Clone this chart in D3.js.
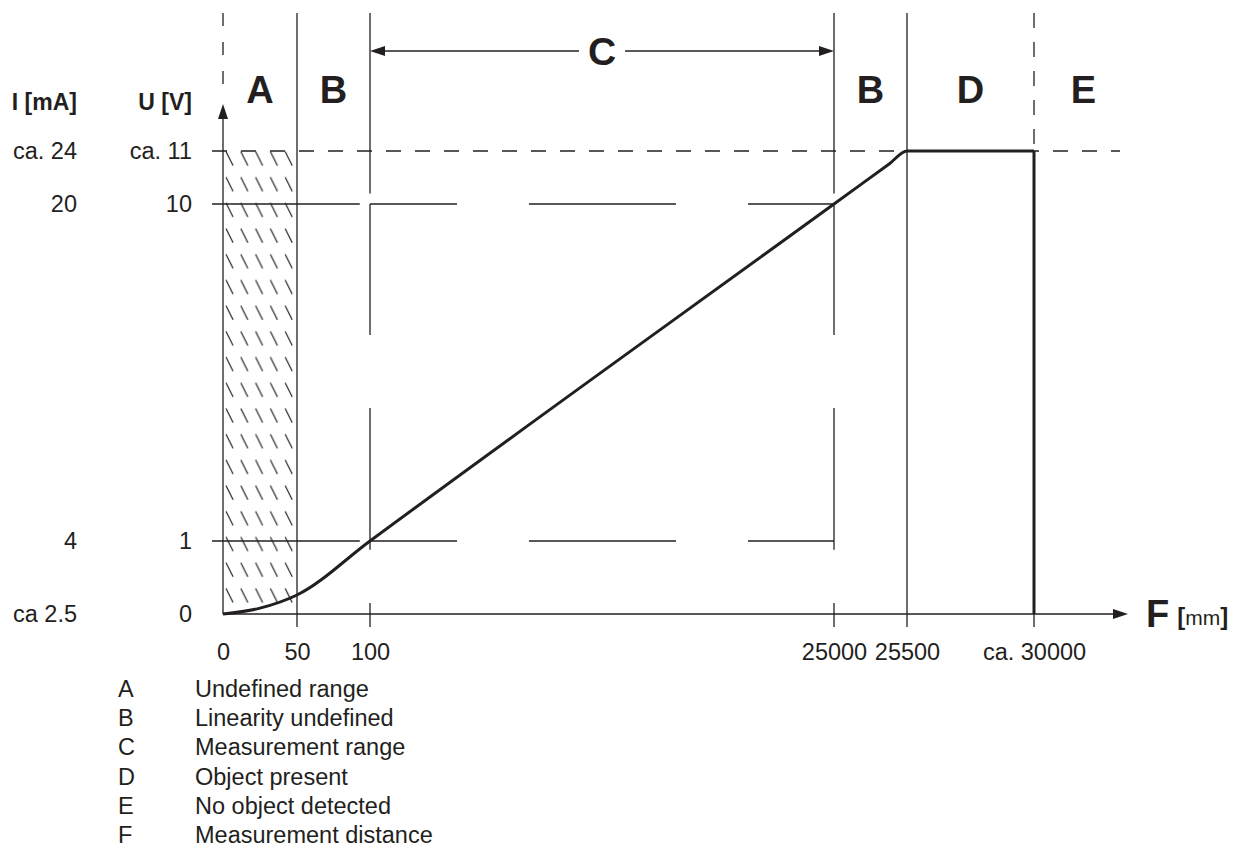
<!DOCTYPE html>
<html>
<head>
<meta charset="utf-8">
<script src="https://cdn.jsdelivr.net/npm/d3@7"></script>
<style>
	body { margin: 0; background: #fff; }
	svg { display: block; font-family: 'Liberation Sans', Arial, sans-serif; }
</style>
</head>
<body>
<div id="draw"></div>
<script>
// distance axis (mm) - schematic, not to scale
const distTicks = [0, 50, 100, 25000, 25500, 30000];
const distLabels = ['0', '50', '100', '25000', '25500', 'ca. 30000'];

// output axes
const voltTicks = [0, 1, 10, 11];
const voltLabels = ['0', '1', '10', 'ca. 11'];
const currLabels = ['ca 2.5', '4', '20', 'ca. 24'];

// characteristic curve
const curveDist = [0, 25, 50, 100, 25000, 25380, 25500, 30000];
const curveVolt = [0, 0.08, 0.26, 1, 10, 10.76, 11, 11];
const dropDist = [30000, 30000];
const dropVolt = [11, 0];

// zones above the chart
const zoneNames = ['A', 'B', 'B', 'D', 'E'];
const zoneFrom = [0, 50, 25000, 25500, 30000];
const zoneTo = [50, 100, 25500, 30000, 33500];
const rangeName = 'C';
const rangeFrom = 100;
const rangeTo = 25000;

// broken grid lines at 1 V and 10 V (mm)
const hGridFrom = [0, 100, 8630, 20385];
const hGridTo = [93, 4770, 16520, 25000];
// broken grid lines at 100 mm and 25000 mm (V), null = frame edge
const vGridFrom = [null, 10, 4.55, 0.15];
const vGridTo = [10.2, 6.5, 0.88, null];

// legend
const legendKeys = ['A', 'B', 'C', 'D', 'E', 'F'];
const legendText = [
	'Undefined range',
	'Linearity undefined',
	'Measurement range',
	'Object present',
	'No object detected',
	'Measurement distance',
];

var width = 1242,
	height = 849,
	ink = '#231f20',
	fontSize = '23.5px',
	frameTop = 13,
	tickLen = 13,
	overhang = 11,
	axisEnd = 1128;

var svg = d3
	.select('#draw')
	.append('svg')
	.attr('width', width)
	.attr('height', height);

// piecewise scales, the drawing is not to scale
var x = d3.scaleLinear().domain(distTicks).range([223, 297, 370, 834, 907, 1034]);
var y = d3.scaleLinear().domain(voltTicks).range([614, 541, 204, 151]);

var bottom = y(0) + tickLen;

// hatch pattern for the undefined range
var hatchW = (x(50) - x(0)) / 5;
var pattern = svg
	.append('defs')
	.append('pattern')
	.attr('id', 'hatch')
	.attr('patternUnits', 'userSpaceOnUse')
	.attr('x', x(0))
	.attr('y', y(11))
	.attr('width', hatchW)
	.attr('height', 25.7);
pattern
	.append('path')
	.attr('d', 'M3,0.5 L10,14.5')
	.attr('stroke', ink)
	.attr('stroke-width', 1.2);

svg
	.append('rect')
	.attr('x', x(0))
	.attr('y', y(11))
	.attr('width', x(50) - x(0))
	.attr('height', y(0) - y(11))
	.attr('fill', 'url(#hatch)');

var thin = function (sel) {
	return sel.attr('stroke', ink).attr('stroke-width', 1.3).attr('fill', 'none');
};

// full height zone borders
[50, 25500].forEach(function (d) {
	svg
		.append('line')
		.attr('x1', x(d))
		.attr('x2', x(d))
		.attr('y1', frameTop)
		.attr('y2', bottom)
		.call(thin);
});

// dashed borders above the y axis and at ca. 30000
svg
	.append('line')
	.attr('x1', x(0))
	.attr('x2', x(0))
	.attr('y1', frameTop)
	.attr('y2', 100)
	.attr('stroke-dasharray', '13,16')
	.call(thin);
svg
	.append('line')
	.attr('x1', x(30000))
	.attr('x2', x(30000))
	.attr('y1', frameTop)
	.attr('y2', y(11))
	.attr('stroke-dasharray', '15,14')
	.call(thin);
svg
	.append('line')
	.attr('x1', x(30000))
	.attr('x2', x(30000))
	.attr('y1', y(0))
	.attr('y2', bottom)
	.call(thin);

// broken verticals at 100 and 25000
[rangeFrom, rangeTo].forEach(function (d) {
	vGridFrom.forEach(function (v, i) {
		svg
			.append('line')
			.attr('x1', x(d))
			.attr('x2', x(d))
			.attr('y1', v === null ? frameTop : y(v))
			.attr('y2', vGridTo[i] === null ? bottom : y(vGridTo[i]))
			.call(thin);
	});
});

// broken horizontals at 1 V and 10 V
[1, 10].forEach(function (v) {
	hGridFrom.forEach(function (d, i) {
		svg
			.append('line')
			.attr('x1', i === 0 ? x(d) - overhang : x(d))
			.attr('x2', x(hGridTo[i]))
			.attr('y1', y(v))
			.attr('y2', y(v))
			.call(thin);
	});
});

// dashed limit line at ca. 11 V
svg
	.append('line')
	.attr('x1', x(0) - overhang)
	.attr('x2', 1120)
	.attr('y1', y(11))
	.attr('y2', y(11))
	.attr('stroke-dasharray', '15,14')
	.call(thin);

// x axis with arrow
svg
	.append('line')
	.attr('x1', x(0))
	.attr('x2', axisEnd - 12)
	.attr('y1', y(0))
	.attr('y2', y(0))
	.call(thin);
svg
	.append('path')
	.attr('d', d3.line()([[axisEnd, y(0)], [axisEnd - 15, y(0) - 5], [axisEnd - 15, y(0) + 5]]) + 'Z')
	.attr('fill', ink);

// y axis with arrow
var arrowTip = 104;
svg
	.append('line')
	.attr('x1', x(0))
	.attr('x2', x(0))
	.attr('y1', y(0))
	.attr('y2', arrowTip + 12)
	.call(thin);
svg
	.append('path')
	.attr('d', d3.line()([[x(0), arrowTip], [x(0) - 5, arrowTip + 15], [x(0) + 5, arrowTip + 15]]) + 'Z')
	.attr('fill', ink);

// x tick labels through d3 axis
var xAxis = svg
	.append('g')
	.attr('transform', 'translate(0,' + y(0) + ')')
	.call(
		d3
			.axisBottom(x)
			.tickValues(distTicks)
			.tickSize(tickLen)
			.tickPadding(16)
			.tickFormat(function (d, i) {
				return distLabels[i];
			})
	);
xAxis.select('.domain').remove();
xAxis.selectAll('.tick line').remove();
xAxis.attr('font-family', null);
xAxis.selectAll('text').style('font-size', fontSize).attr('fill', ink);

// y tick labels, voltage and current
var voltAxis = svg
	.append('g')
	.attr('transform', 'translate(' + x(0) + ',0)')
	.call(
		d3
			.axisLeft(y)
			.tickValues(voltTicks)
			.tickSize(0)
			.tickPadding(x(0) - 192)
			.tickFormat(function (d, i) {
				return voltLabels[i];
			})
	);
var currAxis = svg
	.append('g')
	.attr('transform', 'translate(' + x(0) + ',0)')
	.call(
		d3
			.axisLeft(y)
			.tickValues(voltTicks)
			.tickSize(0)
			.tickPadding(x(0) - 77)
			.tickFormat(function (d, i) {
				return currLabels[i];
			})
	);
[voltAxis, currAxis].forEach(function (g) {
	g.select('.domain').remove();
	g.selectAll('.tick line').remove();
	g.attr('font-family', null);
	g.selectAll('text').style('font-size', fontSize).attr('fill', ink);
});

// axis titles
svg
	.append('text')
	.attr('x', 192)
	.attr('y', 110)
	.attr('text-anchor', 'end')
	.style('font-size', '23px')
	.style('font-weight', 'bold')
	.attr('fill', ink)
	.text('U [V]');
svg
	.append('text')
	.attr('x', 77)
	.attr('y', 110)
	.attr('text-anchor', 'end')
	.style('font-size', '23px')
	.style('font-weight', 'bold')
	.attr('fill', ink)
	.text('I [mA]');

var fLabel = svg
	.append('text')
	.attr('x', 1146)
	.attr('y', y(0) + 13)
	.attr('fill', ink);
fLabel.append('tspan').style('font-size', '38px').style('font-weight', 'bold').text('F');
fLabel.append('tspan').attr('dx', 8).style('font-size', '24px').style('font-weight', 'bold').attr('dy', -2).text('[');
fLabel.append('tspan').style('font-size', '21px').text('mm');
fLabel.append('tspan').style('font-size', '24px').style('font-weight', 'bold').text(']');

// zone letters
svg
	.selectAll('.zone')
	.data(zoneNames)
	.enter()
	.append('text')
	.attr('class', 'zone')
	.attr('x', function (d, i) {
		return (x(zoneFrom[i]) + x(zoneTo[i])) / 2;
	})
	.attr('y', 103)
	.attr('text-anchor', 'middle')
	.style('font-size', '38px')
	.style('font-weight', 'bold')
	.attr('fill', ink)
	.text(function (d) {
		return d;
	});

// measurement range arrow
var cMid = (x(rangeFrom) + x(rangeTo)) / 2,
	cY = 51,
	cGap = 23;
svg
	.append('line')
	.attr('x1', x(rangeFrom) + 12)
	.attr('x2', cMid - cGap)
	.attr('y1', cY)
	.attr('y2', cY)
	.call(thin);
svg
	.append('line')
	.attr('x1', cMid + cGap)
	.attr('x2', x(rangeTo) - 12)
	.attr('y1', cY)
	.attr('y2', cY)
	.call(thin);
svg
	.append('path')
	.attr('d', d3.line()([[x(rangeFrom), cY], [x(rangeFrom) + 15, cY - 5], [x(rangeFrom) + 15, cY + 5]]) + 'Z')
	.attr('fill', ink);
svg
	.append('path')
	.attr('d', d3.line()([[x(rangeTo), cY], [x(rangeTo) - 15, cY - 5], [x(rangeTo) - 15, cY + 5]]) + 'Z')
	.attr('fill', ink);
svg
	.append('text')
	.attr('x', cMid)
	.attr('y', cY + 14)
	.attr('text-anchor', 'middle')
	.style('font-size', '39px')
	.style('font-weight', 'bold')
	.attr('fill', ink)
	.text(rangeName);

// characteristic curve
var curvePts = curveDist.map(function (d, i) {
	return [d, curveVolt[i]];
});
var line = d3
	.line()
	.x(function (d) {
		return x(d[0]);
	})
	.y(function (d) {
		return y(d[1]);
	});
svg
	.append('path')
	.attr('d', line.curve(d3.curveMonotoneX)(curvePts))
	.attr('fill', 'none')
	.attr('stroke', ink)
	.attr('stroke-width', 3);
svg
	.append('path')
	.attr(
		'd',
		line.curve(d3.curveLinear)(
			dropDist.map(function (d, i) {
				return [d, dropVolt[i]];
			})
		)
	)
	.attr('fill', 'none')
	.attr('stroke', ink)
	.attr('stroke-width', 3);

// legend
var legend = svg
	.selectAll('.legend')
	.data(legendKeys)
	.enter()
	.append('g')
	.attr('class', 'legend')
	.attr('transform', function (d, i) {
		return 'translate(0,' + (697 + i * 29.2) + ')';
	});
legend
	.append('text')
	.attr('x', 118)
	.style('font-size', fontSize)
	.attr('fill', ink)
	.text(function (d) {
		return d;
	});
legend
	.append('text')
	.attr('x', 195)
	.style('font-size', fontSize)
	.attr('fill', ink)
	.text(function (d, i) {
		return legendText[i];
	});
</script>
</body>
</html>
